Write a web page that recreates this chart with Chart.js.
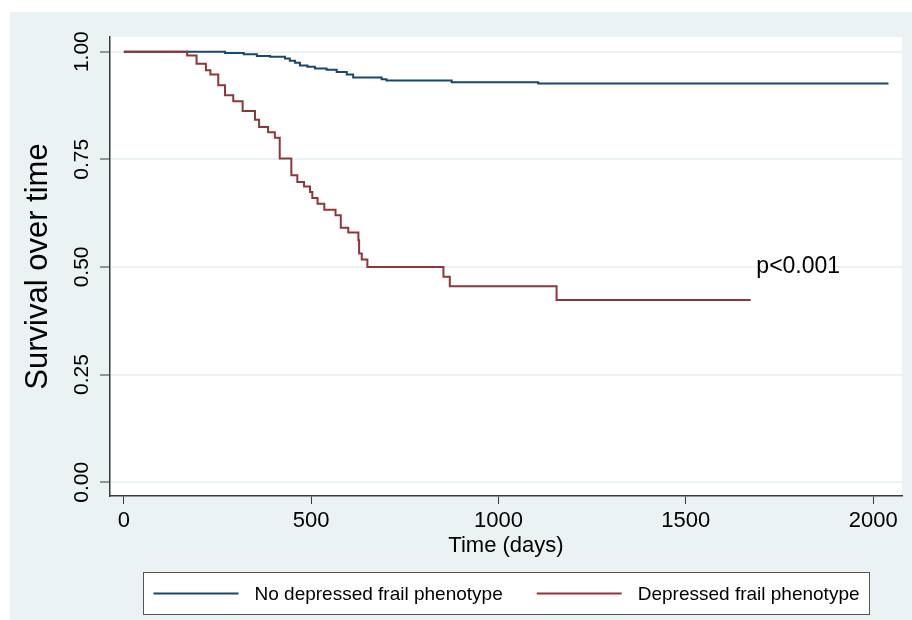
<!DOCTYPE html>
<html>
<head>
<meta charset="utf-8">
<script src="https://cdn.jsdelivr.net/npm/chart.js@4.4.0/dist/chart.umd.min.js"></script>
<style>
  html, body { margin: 0; padding: 0; background: #ffffff; }
  canvas { display: block; }
</style>
</head>
<body>
<canvas id="kmChart" width="912" height="620"></canvas>
<script>
// tiempos (dias) y supervivencia
const diasNoDep = [0, 270, 320, 355, 390, 430, 443, 457, 470, 490, 510, 541, 568, 595, 612, 688, 701, 875, 1106, 2041];
const survNoDep = [1.0, 0.997, 0.994, 0.990, 0.988, 0.984, 0.979, 0.974, 0.968, 0.965, 0.961, 0.958, 0.953, 0.947, 0.940, 0.936, 0.933, 0.929, 0.926, 0.926];

const diasDep = [0, 169, 194, 219, 231, 252, 270, 292, 317, 350, 361, 385, 403, 416, 447, 463, 481, 497, 503, 517, 535, 565, 579, 599, 626, 628, 635, 650, 853, 870, 1155, 1673];
const survDep = [1.0, 0.991, 0.972, 0.957, 0.947, 0.922, 0.899, 0.885, 0.862, 0.842, 0.825, 0.813, 0.800, 0.752, 0.713, 0.697, 0.687, 0.674, 0.660, 0.647, 0.633, 0.620, 0.591, 0.580, 0.562, 0.531, 0.517, 0.500, 0.477, 0.455, 0.423, 0.423];

const etiquetas = ['No depressed frail phenotype', 'Depressed frail phenotype'];
const ticksX = [0, 500, 1000, 1500, 2000];
const ticksY = [0, 0.25, 0.5, 0.75, 1];
const textoP = 'p<0.001';
const posP = { x: 1800, y: 0.5 };

const FUENTE = 'Arial, "Liberation Sans", sans-serif';
const FONDO = '#eaf2f3';
const EJE = '#3a3a3a';

const aPuntos = (xs, ys) => xs.map((x, i) => ({ x: x, y: ys[i] }));

// fondo tipo Stata: region gris azulado y area de grafico blanca
const fondoPlugin = {
  id: 'fondo',
  beforeDraw(chart) {
    const { ctx, chartArea: a } = chart;
    ctx.save();
    ctx.fillStyle = '#ffffff';
    ctx.fillRect(0, 0, chart.width, chart.height);
    ctx.fillStyle = FONDO;
    ctx.fillRect(10, 12, chart.width - 10, chart.height - 12);
    ctx.fillStyle = '#ffffff';
    ctx.fillRect(a.left, a.top, a.right - a.left, a.bottom - a.top);
    ctx.restore();
  }
};

// texto del p-valor y leyenda con recuadro
const extrasPlugin = {
  id: 'extras',
  afterDraw(chart) {
    const { ctx, chartArea: a } = chart;
    const sx = chart.scales.x, sy = chart.scales.y;
    ctx.save();
    ctx.fillStyle = '#000000';
    ctx.font = '23px ' + FUENTE;
    ctx.textAlign = 'center';
    ctx.textBaseline = 'middle';
    ctx.fillText(textoP, sx.getPixelForValue(posP.x), sy.getPixelForValue(posP.y));

    // leyenda
    ctx.font = '19px ' + FUENTE;
    const largoLinea = 85, hueco = 16, sepItems = 34, margen = 10;
    const anchos = chart.data.datasets.map(d => ctx.measureText(d.label).width);
    let total = margen * 2;
    anchos.forEach((w, i) => { total += largoLinea + hueco + w + (i > 0 ? sepItems : 0); });
    const centro = (a.left + a.right) / 2;
    const x0 = Math.round(centro - total / 2) + 0.5;
    const y0 = 572.5, alto = 42;
    ctx.fillStyle = '#ffffff';
    ctx.fillRect(x0, y0, total, alto);
    ctx.strokeStyle = '#555555';
    ctx.lineWidth = 1;
    ctx.strokeRect(x0, y0, total, alto);
    let x = x0 + margen;
    const yc = y0 + alto / 2;
    chart.data.datasets.forEach((d, i) => {
      if (i > 0) x += sepItems;
      ctx.strokeStyle = d.borderColor;
      ctx.lineWidth = 2;
      ctx.beginPath();
      ctx.moveTo(x, yc);
      ctx.lineTo(x + largoLinea, yc);
      ctx.stroke();
      x += largoLinea + hueco;
      ctx.fillStyle = '#000000';
      ctx.textAlign = 'left';
      ctx.textBaseline = 'middle';
      ctx.fillText(d.label, x, yc + 1);
      x += anchos[i];
    });
    ctx.restore();
  }
};

const ctx = document.getElementById('kmChart').getContext('2d');
const kmChart = new Chart(ctx, {
  type: 'line',
  data: {
    datasets: [
      {
        label: etiquetas[0],
        data: aPuntos(diasNoDep, survNoDep),
        borderColor: '#1a476f',
        borderWidth: 2,
        stepped: 'before',
        pointRadius: 0,
        fill: false,
        order: 2
      },
      {
        label: etiquetas[1],
        data: aPuntos(diasDep, survDep),
        borderColor: '#90353b',
        borderWidth: 2,
        stepped: 'before',
        pointRadius: 0,
        fill: false,
        order: 1
      }
    ]
  },
  options: {
    responsive: false,
    animation: false,
    devicePixelRatio: 1,
    layout: { padding: { left: 0, top: 37, right: 10, bottom: 0 } },
    scales: {
      x: {
        type: 'linear',
        min: -37,
        max: 2077,
        afterBuildTicks: s => { s.ticks = ticksX.map(v => ({ value: v })); },
        afterFit: s => { s.height = 124; },
        grid: { drawOnChartArea: false, drawTicks: true, tickLength: 8, tickColor: EJE, tickWidth: 1 },
        border: { display: true, color: EJE, width: 1.5 },
        ticks: {
          color: '#000000',
          font: { family: FUENTE, size: 22 },
          padding: 4,
          maxRotation: 0,
          autoSkip: false,
          callback: v => String(v)
        },
        title: { display: true, text: 'Time (days)', color: '#000000', font: { family: FUENTE, size: 22 }, padding: { top: 0, bottom: 61 } }
      },
      y: {
        type: 'linear',
        min: -0.032,
        max: 1.034,
        afterBuildTicks: s => { s.ticks = ticksY.map(v => ({ value: v })); },
        afterFit: s => { s.width = 110; },
        grid: { color: FONDO, lineWidth: 2, drawTicks: true, tickLength: 10, tickColor: EJE, tickWidth: 1 },
        border: { display: true, color: EJE, width: 1.5 },
        ticks: {
          color: '#000000',
          font: { family: FUENTE, size: 21 },
          padding: -3,
          minRotation: 90,
          maxRotation: 90,
          crossAlign: 'center',
          autoSkip: false,
          callback: v => Number(v).toFixed(2)
        },
        title: { display: true, text: 'Survival over time', color: '#000000', font: { family: FUENTE, size: 31 }, padding: { top: 20, bottom: 0 } }
      }
    },
    plugins: {
      legend: { display: false },
      tooltip: { enabled: false }
    }
  },
  plugins: [fondoPlugin, extrasPlugin]
});
</script>
</body>
</html>
